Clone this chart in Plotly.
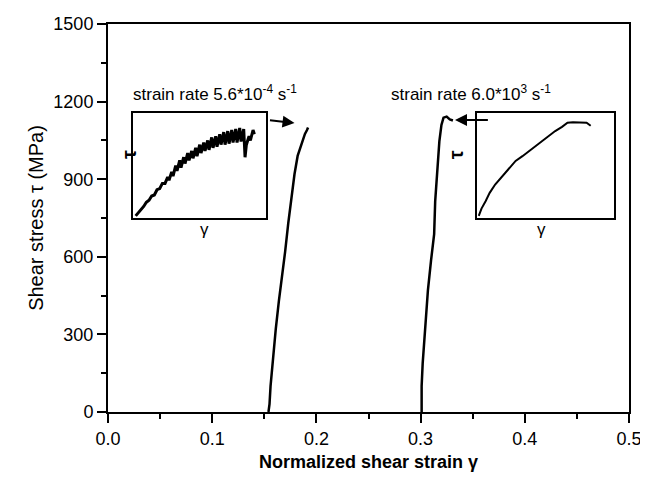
import plotly.graph_objects as go

# Main curves: normalized shear strain vs shear stress (MPa)
quasi_strain = [0.154, 0.155, 0.156, 0.158, 0.161, 0.164, 0.167, 0.170, 0.173, 0.176,
                0.179, 0.182, 0.185, 0.187, 0.189, 0.191, 0.192]
quasi_stress = [0, 30, 100, 200, 320, 430, 520, 620, 730, 830,
                920, 990, 1030, 1055, 1075, 1090, 1100]

dyn_strain = [0.301, 0.301, 0.302, 0.304, 0.307, 0.310, 0.313, 0.314, 0.316, 0.318,
              0.320, 0.322, 0.325, 0.328, 0.331]
dyn_stress = [0, 100, 188, 315, 469, 585, 688, 815, 942, 1046,
              1110, 1138, 1142, 1131, 1127]

# Inset curves (normalized units)
inset1_x = [0.02, 0.05, 0.08, 0.10, 0.12, 0.14, 0.16, 0.18, 0.20, 0.22, 0.24, 0.26, 0.27,
            0.29, 0.30, 0.32, 0.33, 0.35, 0.36, 0.38, 0.39, 0.41, 0.42, 0.44, 0.45, 0.47,
            0.48, 0.50, 0.51, 0.53, 0.54, 0.56, 0.57, 0.59, 0.60, 0.62, 0.63, 0.65, 0.66,
            0.68, 0.69, 0.71, 0.72, 0.74, 0.75, 0.77, 0.78, 0.80, 0.81, 0.83, 0.84, 0.85,
            0.87, 0.88, 0.90, 0.91]
inset1_y = [0.02, 0.06, 0.11, 0.15, 0.17, 0.21, 0.22, 0.27, 0.28, 0.33, 0.33, 0.39, 0.36,
            0.44, 0.40, 0.50, 0.45, 0.55, 0.48, 0.58, 0.52, 0.62, 0.55, 0.64, 0.57, 0.67,
            0.59, 0.70, 0.62, 0.72, 0.64, 0.74, 0.65, 0.77, 0.67, 0.78, 0.68, 0.80, 0.70,
            0.82, 0.70, 0.83, 0.71, 0.84, 0.72, 0.85, 0.72, 0.86, 0.73, 0.85, 0.58, 0.70,
            0.78, 0.74, 0.84, 0.80]

inset2_x = [0.01, 0.03, 0.06, 0.09, 0.13, 0.17, 0.21, 0.25, 0.28, 0.33, 0.38, 0.43,
            0.48, 0.53, 0.57, 0.62, 0.66, 0.70, 0.74, 0.78, 0.80, 0.82, 0.83]
inset2_y = [0.02, 0.09, 0.16, 0.24, 0.32, 0.38, 0.43, 0.49, 0.545, 0.59, 0.64, 0.69,
            0.74, 0.79, 0.83, 0.87, 0.91, 0.915, 0.915, 0.915, 0.91, 0.89, 0.88]

x_ticks = [0.0, 0.1, 0.2, 0.3, 0.4, 0.5]
x_labels = ["0.0", "0.1", "0.2", "0.3", "0.4", "0.5"]
y_ticks = [0, 300, 600, 900, 1200, 1500]

FONT = "Liberation Sans, Arial, sans-serif"
BLACK = "#000000"

fig = go.Figure()

fig.add_trace(go.Scatter(x=quasi_strain, y=quasi_stress, mode="lines",
                         line=dict(color=BLACK, width=2.5), showlegend=False))
fig.add_trace(go.Scatter(x=dyn_strain, y=dyn_stress, mode="lines",
                         line=dict(color=BLACK, width=2.5), showlegend=False))
fig.add_trace(go.Scatter(x=inset1_x, y=inset1_y, mode="lines", xaxis="x2", yaxis="y2",
                         line=dict(color=BLACK, width=3), showlegend=False))
fig.add_trace(go.Scatter(x=inset2_x, y=inset2_y, mode="lines", xaxis="x3", yaxis="y3",
                         line=dict(color=BLACK, width=2), showlegend=False))

inset_axis = dict(range=[0, 1], showticklabels=False, ticks="", showgrid=False,
                  zeroline=False, showline=True, linecolor=BLACK, linewidth=2, mirror=True)

# the page body adds an 8px offset, so the figure is sized to fit the window
fig.update_layout(
    width=640, height=472,
    margin=dict(l=100, r=19, t=16, b=68),
    paper_bgcolor="white", plot_bgcolor="white",
    font=dict(family=FONT, color=BLACK, size=17),
    xaxis=dict(range=[0, 0.5], tickvals=x_ticks, ticktext=x_labels, automargin=False,
               ticks="outside", ticklen=9, tickwidth=2, tickcolor=BLACK,
               minor=dict(ticks="outside", ticklen=5, tickwidth=2, dtick=0.05, tick0=0),
               showgrid=False, zeroline=False, showline=True, linecolor=BLACK,
               linewidth=2, mirror=True, tickfont=dict(size=18),
               title=dict(text="<b>Normalized shear strain γ</b>", font=dict(size=18),
                          standoff=8)),
    yaxis=dict(range=[0, 1500], tickvals=y_ticks, automargin=False,
               ticks="outside", ticklen=9, tickwidth=2, tickcolor=BLACK,
               minor=dict(ticks="outside", ticklen=5, tickwidth=2, dtick=150, tick0=0),
               showgrid=False, zeroline=False, showline=True, linecolor=BLACK,
               linewidth=2, mirror=True, tickfont=dict(size=18),
               title=dict(text="Shear stress τ (MPa)", font=dict(size=20), standoff=4)),
    xaxis2=dict(domain=[0.048, 0.304], anchor="y2", **inset_axis),
    yaxis2=dict(domain=[0.5, 0.77], anchor="x2", **inset_axis),
    xaxis3=dict(domain=[0.709, 0.971], anchor="y3", **inset_axis),
    yaxis3=dict(domain=[0.5, 0.77], anchor="x3", **inset_axis),
)

# Rate labels
fig.add_annotation(xref="paper", yref="paper", x=0.044, y=0.855, xanchor="left",
                   text="strain rate 5.6*10<sup>-4</sup> s<sup>-1</sup>",
                   showarrow=False, font=dict(size=17))
fig.add_annotation(xref="paper", yref="paper", x=0.539, y=0.855, xanchor="left",
                   text="strain rate 6.0*10<sup>3</sup> s<sup>-1</sup>",
                   showarrow=False, font=dict(size=17))

# Arrows from insets to curves
fig.add_annotation(x=0.179, y=1117, ax=0.154, ay=1129, axref="x", ayref="y",
                   text="", showarrow=True, arrowhead=2, arrowsize=1.2,
                   arrowwidth=2, arrowcolor=BLACK)
fig.add_annotation(x=0.333, y=1129, ax=0.366, ay=1129, axref="x", ayref="y",
                   text="", showarrow=True, arrowhead=2, arrowsize=1.2,
                   arrowwidth=2, arrowcolor=BLACK)

# Inset axis labels
for xl, xg in [(0.014, 0.173), (0.692, 0.845)]:
    fig.add_annotation(xref="paper", yref="paper", x=xl, y=0.68, text="<b>τ</b>",
                       textangle=-90, showarrow=False, font=dict(size=20))
    fig.add_annotation(xref="paper", yref="paper", x=xg, y=0.47, text="γ",
                       showarrow=False, font=dict(size=17))

fig.write_html("out.html")
